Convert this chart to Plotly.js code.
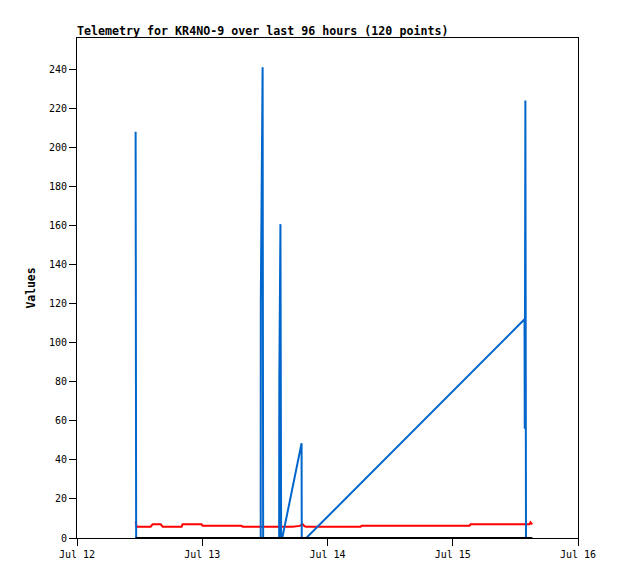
<!DOCTYPE html>
<html>
<head>
<meta charset="utf-8">
<script src="https://cdn.plot.ly/plotly-3.0.1.min.js"></script>
<style>
html,body{margin:0;padding:0;background:#fff;}
#chart{width:618px;height:579px;}
</style>
</head>
<body>
<div id="chart"></div>
<script>
// Red series (low, slowly varying channel)
const redTimes = [
  '2024-07-12 11:14','2024-07-12 11:26','2024-07-12 14:07','2024-07-12 14:30',
  '2024-07-12 16:02','2024-07-12 16:25','2024-07-12 20:03','2024-07-12 20:14',
  '2024-07-12 23:53','2024-07-13 00:04','2024-07-13 07:32','2024-07-13 07:44',
  '2024-07-13 17:19','2024-07-13 18:40','2024-07-13 19:14','2024-07-13 19:37',
  '2024-07-13 19:56','2024-07-14 06:20','2024-07-14 06:32','2024-07-15 03:13',
  '2024-07-15 03:25','2024-07-15 14:43','2024-07-15 14:54','2024-07-15 15:14'
];
const redValues = [
  8.3, 5.8, 5.8, 7.0,
  7.0, 5.8, 5.8, 7.0,
  7.0, 6.3, 6.3, 5.8,
  5.8, 6.2, 7.0, 6.0,
  5.8, 5.8, 6.3, 6.3,
  7.0, 7.0, 8.0, 7.0
];

// Blue series (spiky channel)
const blueTimes = [
  '2024-07-12 11:14','2024-07-12 11:20','2024-07-13 11:12','2024-07-13 11:13',
  '2024-07-13 11:34','2024-07-13 11:40','2024-07-13 14:44','2024-07-13 14:46',
  '2024-07-13 14:59','2024-07-13 15:07','2024-07-13 15:20','2024-07-13 19:02',
  '2024-07-13 19:04','2024-07-13 19:56','2024-07-15 13:45','2024-07-15 13:48',
  '2024-07-15 13:55','2024-07-15 14:02','2024-07-15 15:14'
];
const blueValues = [
  208, 0, 0, 121,
  241, 0, 0, 80.5,
  160.7, 0, 0, 48.5,
  0, 0, 112, 56,
  224, 0, 0
];

// Black series (flat at zero)
const blackTimes = [
  '2024-07-12 11:14','2024-07-13 00:00','2024-07-14 00:00','2024-07-15 00:00','2024-07-15 15:14'
];
const blackValues = [0, 0, 0, 0, 0];

const titleText = 'Telemetry for KR4NO-9 over last 96 hours (120 points)';
const yTitle = 'Values';

const traces = [
  {x: redTimes, y: redValues, type: 'scatter', mode: 'lines',
   line: {color: '#ff0000', width: 2}, hoverinfo: 'skip'},
  {x: blueTimes, y: blueValues, type: 'scatter', mode: 'lines',
   line: {color: '#0066cc', width: 2}, hoverinfo: 'skip'},
  {x: blackTimes, y: blackValues, type: 'scatter', mode: 'lines',
   line: {color: '#000000', width: 2}, hoverinfo: 'skip'}
];

const mono = 'DejaVu Sans Mono, Liberation Mono, monospace';

const layout = {
  width: 618, height: 579,
  margin: {l: 77, r: 40, t: 38, b: 41, pad: 0},
  paper_bgcolor: '#ffffff', plot_bgcolor: '#ffffff',
  showlegend: false,
  font: {family: mono, size: 10, color: '#000'},
  title: {
    text: titleText,
    font: {family: mono, size: 11.65, weight: 'bold', color: '#000'},
    xref: 'paper', x: 0, xanchor: 'left',
    yref: 'container', y: 1 - 31/579, yanchor: 'middle'
  },
  xaxis: {
    type: 'date',
    range: ['2024-07-12', '2024-07-16'],
    tick0: '2024-07-12', dtick: 86400000,
    tickformat: '%b %-d',
    ticks: 'outside', ticklen: 7, tickwidth: 1, tickcolor: '#000',
    showline: true, linecolor: '#000', linewidth: 1, mirror: true,
    showgrid: false, zeroline: false,
    tickfont: {family: mono, size: 10, color: '#000'}
  },
  yaxis: {
    range: [0, 256],
    tick0: 0, dtick: 20,
    ticks: 'outside', ticklen: 7, tickwidth: 1, tickcolor: '#000',
    showline: true, linecolor: '#000', linewidth: 1, mirror: true,
    showgrid: false, zeroline: false,
    tickfont: {family: mono, size: 10, color: '#000'},
    title: {text: yTitle, font: {family: mono, size: 11.4, weight: 'bold', color: '#000'}, standoff: 10}
  }
};

Plotly.newPlot('chart', traces, layout, {staticPlot: true, displayModeBar: false});
</script>
</body>
</html>
